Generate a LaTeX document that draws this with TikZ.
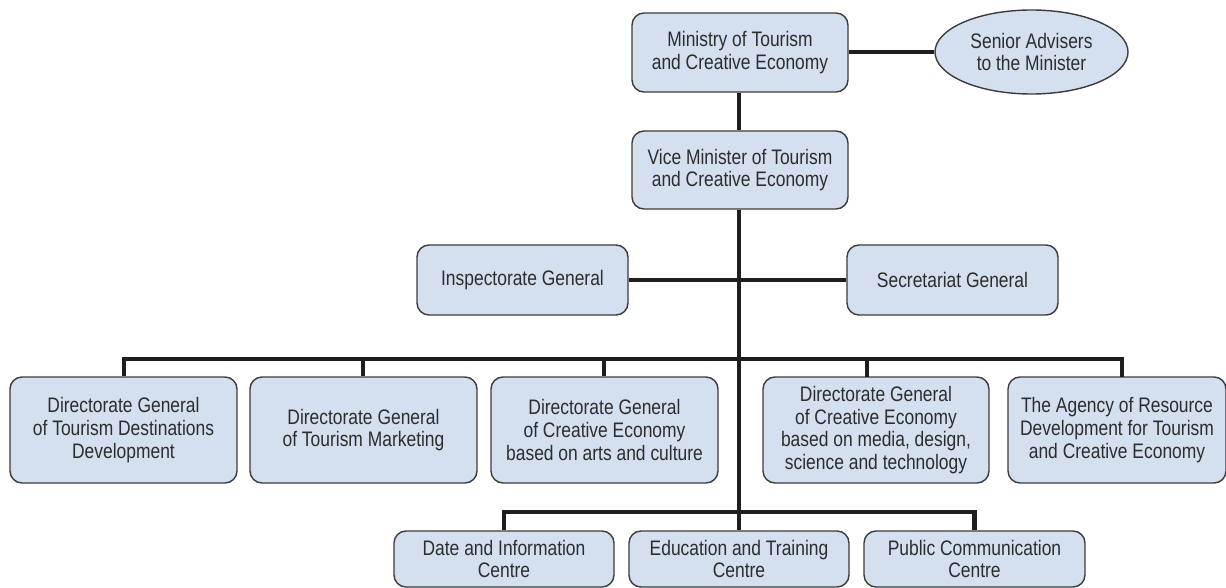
\documentclass[tikz,border=0pt]{standalone}
\usepackage{fontspec}
\setmainfont[FakeStretch=0.83]{Liberation Sans}
\usetikzlibrary{shapes.geometric}
\definecolor{boxblue}{RGB}{212,223,240}
\definecolor{boxline}{RGB}{60,60,60}
\definecolor{txt}{RGB}{45,45,45}
\definecolor{conn}{RGB}{30,30,30}
\tikzset{
  unit box/.style={rectangle, rounded corners=6pt, fill=boxblue, draw=boxline, line width=0.7pt,
    align=center, inner sep=0pt, text=txt, font=\fontsize{10.5}{11.35}\selectfont},
  oval box/.style={ellipse, fill=boxblue, draw=boxline, line width=0.7pt,
    align=center, inner sep=0pt, text=txt, font=\fontsize{10.5}{11.35}\selectfont},
  link/.style={draw=conn, line width=2.4pt}
}
\begin{document}
\begin{tikzpicture}[x=0.5pt, y=-0.5pt]
\useasboundingbox (0,0) rectangle (1226,588);
% level 1
\node[unit box, minimum width=108pt, minimum height=39.5pt] (min) at (740,52.5) {Ministry of Tourism\\and Creative Economy};
\node[oval box, minimum width=96.5pt, minimum height=42pt] (adv) at (1031.5,52) {Senior Advisers\\to the Minister};
\node[unit box, minimum width=108pt, minimum height=39pt] (vice) at (740,170) {Vice Minister of Tourism\\and Creative Economy};
\node[unit box, minimum width=105.5pt, minimum height=35pt] (insp) at (522.5,280) {Inspectorate General};
\node[unit box, minimum width=105.5pt, minimum height=35pt] (sec) at (952.5,280) {Secretariat General};
% level 3
\node[unit box, minimum width=113.5pt, minimum height=53pt] (b1) at (123.5,430) {Directorate General\\of Tourism Destinations\\Development};
\node[unit box, minimum width=113.5pt, minimum height=53pt] (b2) at (363.5,430) {Directorate General\\of Tourism Marketing};
\node[unit box, minimum width=113.5pt, minimum height=53pt] (b3) at (604.5,430) {Directorate General\\of Creative Economy\\based on arts and culture};
\node[unit box, minimum width=113pt, minimum height=53pt] (b4) at (876,430) {Directorate General\\of Creative Economy\\based on media, design,\\science and technology};
\node[unit box, minimum width=109pt, minimum height=53pt] (b5) at (1117,430) {The Agency of Resource\\Development for Tourism\\and Creative Economy};
% level 4
\node[unit box, minimum width=110pt, minimum height=28pt] (c1) at (504,559) {Date and Information\\Centre};
\node[unit box, minimum width=110pt, minimum height=28pt] (c2) at (739,559) {Education and Training\\Centre};
\node[unit box, minimum width=110.5pt, minimum height=28pt] (c3) at (974.5,559) {Public Communication\\Centre};
% bus coordinates
\coordinate (bus) at (739,359);
\coordinate (bus2) at (739,512);
\coordinate (d4) at (867,377);
\coordinate (d5) at (1122,377);
% connectors
\draw[link] (min.east |- adv.west) -- (adv.west);
\draw[link] (min.south -| bus) -- (vice.north -| bus);
\draw[link] (vice.south -| bus) -- (c2.north -| bus);
\draw[link] (insp.east) -- (sec.west);
\draw[link] (b1.north -| 124,0) |- (bus) -| (d5);
\draw[link] (b2.north -| 363,0) -- (363,359);
\draw[link] (b3.north -| 604,0) -- (604,359);
\draw[link] (d4) -- (d4 |- bus);
\draw[link] (c1.north) |- (bus2) -| (c3.north);
\end{tikzpicture}
\end{document}
